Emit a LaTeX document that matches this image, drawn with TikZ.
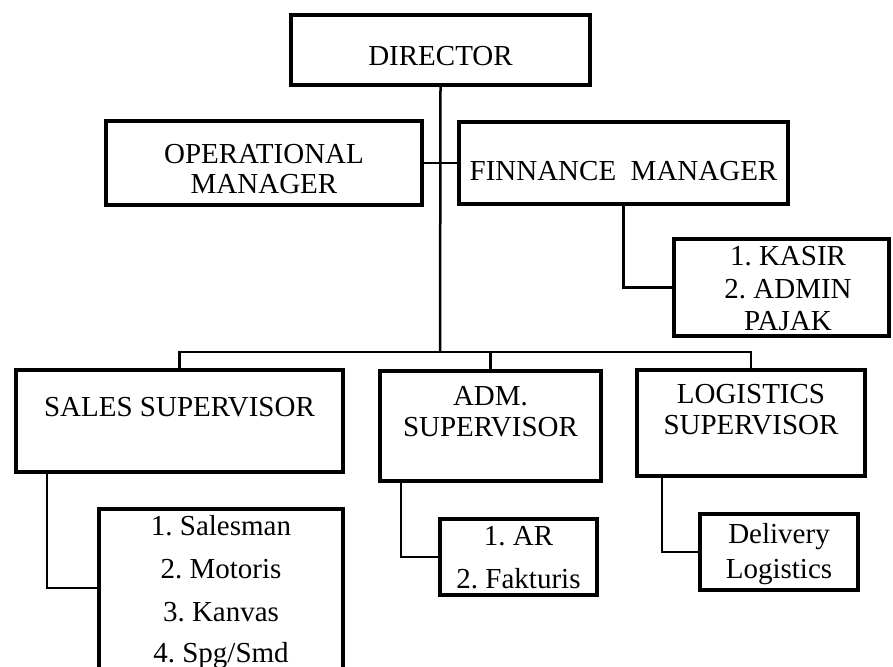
\documentclass[tikz,border=0pt]{standalone}
\usepackage{fontspec}
\setmainfont{Liberation Serif}
\frenchspacing
\begin{document}
\begin{tikzpicture}[x=1pt,y=-1pt,
  box/.style={draw, line width=4pt, inner sep=0pt},
  conn/.style={line width=2.5pt},
  txt/.style={anchor=base, inner sep=0pt, font=\fontsize{29}{29}\selectfont}]
\clip (0,0) rectangle (893,666);
% boxes
\node[box, minimum width=299pt, minimum height=70pt] (dir) at (440.5,50) {};
\node[box, minimum width=316pt, minimum height=84pt] (op) at (264,163) {};
\node[box, minimum width=329pt, minimum height=82pt] (fin) at (623.5,163) {};
\node[box, minimum width=215pt, minimum height=97pt] (kas) at (781.5,287.5) {};
\node[box, minimum width=327pt, minimum height=102pt] (sales) at (179.5,421) {};
\node[box, minimum width=221pt, minimum height=110pt] (adm) at (490.5,426) {};
\node[box, minimum width=228pt, minimum height=106pt] (log) at (751,423) {};
\node[box, minimum width=244pt, minimum height=209pt] (items) at (221,613.5) {};
\node[box, minimum width=157pt, minimum height=76pt] (ar) at (518.5,557) {};
\node[box, minimum width=158pt, minimum height=76pt] (del) at (779,552) {};
% connector points
\coordinate (bus) at (440,352);
\coordinate (sj) at (47,588);
\coordinate (aj) at (401,557);
\coordinate (lj) at (662,552);
% connectors
\draw[conn] (dir.south) -- (bus);
\draw[conn] (op.east) -- (fin.west);
\draw[conn] (fin.south) |- (kas.west);
\draw[conn] (sales.north) -- (sales.north |- bus) -- (log.north |- bus) -- (log.north);
\draw[conn] (adm.north) -- (adm.north |- bus);
\draw[conn] (sales.south -| sj) |- (items.west |- sj);
\draw[conn] (adm.south -| aj) |- (ar.west);
\draw[conn] (log.south -| lj) |- (del.west);
% texts
\node[txt] (tdir) at (440.5,66) {DIRECTOR};
\node[txt] (top1) at (264,163) {OPERATIONAL};
\node[txt] (top2) at (264,193) {MANAGER};
\node[txt] (tfin) at (623.5,180) {FINNANCE\ \ MANAGER};
\node[txt] (tk1) at (788,265) {1. KASIR};
\node[txt] (tk2) at (788,298) {2. ADMIN};
\node[txt] (tk3) at (788,330) {PAJAK};
\node[txt] (tsal) at (179.5,416) {SALES SUPERVISOR};
\node[txt] (tad1) at (490.5,405) {ADM.};
\node[txt] (tad2) at (490.5,436) {SUPERVISOR};
\node[txt] (tlg1) at (751,403) {LOGISTICS};
\node[txt] (tlg2) at (751,434) {SUPERVISOR};
\node[txt] (ti1) at (221,535) {1. Salesman};
\node[txt] (ti2) at (221,578) {2. Motoris};
\node[txt] (ti3) at (221,621) {3. Kanvas};
\node[txt] (ti4) at (221,662) {4. Spg/Smd};
\node[txt] (tar1) at (518.5,545) {1. AR};
\node[txt] (tar2) at (518.5,588) {2. Fakturis};
\node[txt] (tdl1) at (779,543) {Delivery};
\node[txt] (tdl2) at (779,578) {Logistics};
\end{tikzpicture}
\end{document}
